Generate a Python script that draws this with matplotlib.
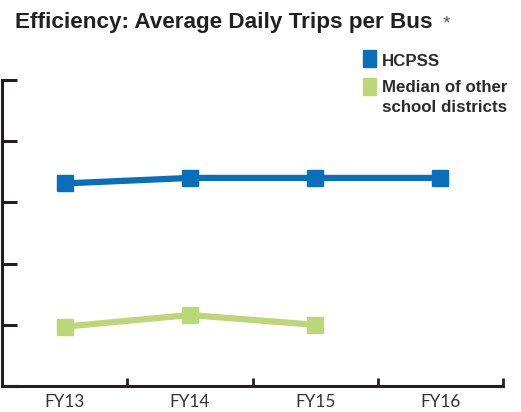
import matplotlib
matplotlib.use("Agg")
import matplotlib.pyplot as plt
from matplotlib.patches import Rectangle

years = ["FY13", "FY14", "FY15", "FY16"]
hcpss = [3.31, 3.40, 3.40, 3.40]
median_other = [0.97, 1.16, 1.00]

BLUE = "#0A6FBA"
GREEN = "#BCD777"
DARK = "#231F20"
TEXT = "#2b2b2b"

fig = plt.figure(figsize=(5.21, 4.12), dpi=100)
ax = fig.add_axes([2 / 521, 26 / 412, 501 / 521, 306 / 412])

xs = [i + 0.5 for i in range(len(years))]
ax.plot(xs, hcpss, color=BLUE, lw=4.5, marker="s", ms=11.5,
        solid_capstyle="butt", zorder=3)
ax.plot(xs[:len(median_other)], median_other, color=GREEN, lw=4.5,
        marker="s", ms=11.5, solid_capstyle="butt", zorder=3)

ax.set_xlim(0, 4)
ax.set_ylim(0, 5)
ax.set_xticks([1, 2, 3, 4])
ax.set_xticklabels([])
ax.set_xticks(xs, minor=True)
ax.set_xticklabels(years, minor=True, fontsize=12.3, color="#333333",
                   family="Lato")
ax.tick_params(axis="x", which="minor", length=0, pad=6)
ax.tick_params(axis="x", which="major", direction="in", length=6,
               width=2, color=DARK)
ax.set_yticks(range(6))
ax.set_yticklabels([])
ax.tick_params(axis="y", direction="in", length=11, width=2.2, color=DARK)

for side in ("top", "right"):
    ax.spines[side].set_visible(False)
for side in ("left", "bottom"):
    ax.spines[side].set_linewidth(2.2)
    ax.spines[side].set_color(DARK)

fig.text(15 / 521, 1 - 28 / 412, "Efficiency: Average Daily Trips per Bus",
         fontsize=16.2, fontweight="bold", color=DARK, family="Liberation Sans",
         va="baseline", ha="left")
fig.text(443 / 521, 1 - 28 / 412, "*", fontsize=14, color="#555555",
         family="Liberation Sans", va="baseline", ha="left")

# Legend swatches and labels, placed in figure pixel coordinates
def swatch(y_top, color):
    fig.patches.append(Rectangle((363 / 521, 1 - (y_top + 17) / 412),
                                 13 / 521, 17 / 412, color=color,
                                 transform=fig.transFigure, figure=fig))

def label(y_base, text):
    fig.text(382 / 521, 1 - y_base / 412, text, fontsize=12.2,
             fontweight="bold", color=TEXT, family="Liberation Sans",
             va="baseline", ha="left")

swatch(50, BLUE)
label(66, "HCPSS")
swatch(78, GREEN)
label(92, "Median of other")
label(112, "school districts")

fig.savefig("out.png", dpi=100)
